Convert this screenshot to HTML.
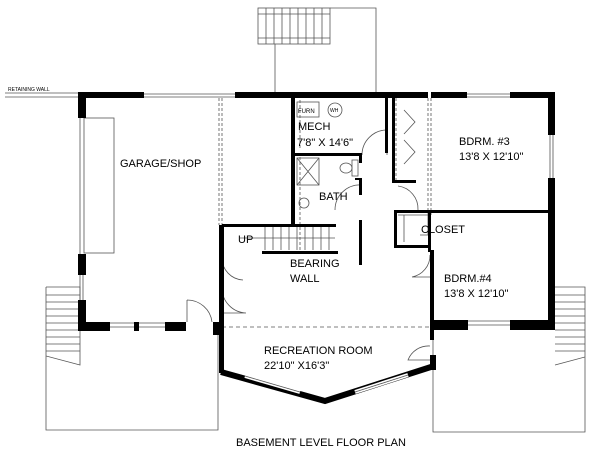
<!DOCTYPE html>
<html><head><meta charset="utf-8"><style>
html,body{margin:0;padding:0;background:#fff;width:600px;height:450px;overflow:hidden}
svg text{font-family:"Liberation Sans",sans-serif;fill:#000}
</style></head><body>
<svg width="600" height="450" viewBox="0 0 600 450" xmlns="http://www.w3.org/2000/svg">
<g fill="none" stroke="#555" stroke-width="0.8">
<!-- top stair -->
<rect x="258" y="8" width="72" height="36"/>
<line x1="258" y1="14" x2="330" y2="14"/><line x1="258" y1="38" x2="330" y2="38"/>
<path d="M266 8V44M274 8V44M282 8V44M290 8V44M298 8V44M306 8V44M314 8V44M322 8V44"/>
<line x1="275" y1="44" x2="275" y2="93"/>
<path d="M330 8H376V93"/>
<!-- retaining wall -->
<line x1="5" y1="93" x2="78" y2="93"/><line x1="5" y1="97" x2="78" y2="97"/>
<!-- garage door bench -->
<rect x="84" y="118" width="30" height="135"/>
<line x1="80" y1="118" x2="80" y2="255"/>
<!-- garage dashed -->
<path d="M219 98V225M222 98V225M300 100V150M396 98V180M300 157V250" stroke-dasharray="3,2"/>
<path d="M428 98V215M431 98V215" stroke-dasharray="3,2"/>
<path d="M222 327H430" stroke-dasharray="4,3"/>
<!-- left deck -->
<path d="M46 287H80V365L46 356V287M46 356V430H218V335"/>
<path d="M46 295H80M46 302H80M46 309H80M46 316H80M46 323H80M46 330H80M46 337H80M46 344H80M46 351H80"/>
<!-- right deck -->
<path d="M555 287H585V357L555 365M585 357V432H433V332"/>
<path d="M555 295H585M555 302H585M555 309H585M555 316H585M555 323H585M555 330H585M555 337H585M555 344H585M555 351H585"/>
<!-- windows -->
<path d="M144 94H235M144 97H235M467 94H510M467 97H510M550 135V178M553 135V178M80 275V300M83 275V300M110 323H165M110 327H165M468 321H510M468 325H510"/>
<!-- main stairs -->
<path d="M265 226V250M273 226V250M281 226V250M289 226V250M297 226V250M305 226V250M313 226V250M321 226V250M329 226V250M240 238H335"/>
<!-- doors arcs -->
<path d="M187 300A25 25 0 0 1 212 322M187 300V322"/>
<path d="M222 288A25 25 0 0 0 246 313H222"/>
<path d="M222 258A22 22 0 0 0 243 280"/>
<path d="M362 155A25 25 0 0 1 387 130V155"/>
<path d="M335 210A25 25 0 0 1 362 185"/>
<path d="M398 186A23 23 0 0 1 418 210"/>
<path d="M430 255A22 22 0 0 1 412 277H430"/>
<path d="M430 346A22 22 0 0 0 408 360H430"/>
<path d="M398 215H428V235H420M404 215V242"/>
<path d="M404 110L415 122L404 134M404 140L415 152L404 164"/>
<!-- mech fixtures -->
<rect x="297" y="102" width="22" height="15"/><circle cx="335" cy="110" r="7"/>
<rect x="297" y="158" width="22" height="27"/><path d="M297 158L319 185M319 158L297 185"/>
<ellipse cx="346" cy="168" rx="6" ry="5"/><rect x="352" y="160" width="6" height="16"/>
<circle cx="304" cy="203" r="5"/>
</g>
<g fill="#000">
<!-- exterior walls -->
<rect x="78" y="92" width="66" height="6"/>
<rect x="235" y="92" width="193" height="6"/>
<rect x="431" y="92" width="36" height="6"/>
<rect x="510" y="92" width="45" height="6"/>
<rect x="548" y="92" width="7" height="43"/>
<rect x="548" y="178" width="7" height="150"/>
<rect x="78" y="92" width="8" height="26"/>
<rect x="78" y="254" width="8" height="21"/>
<rect x="78" y="300" width="8" height="31"/>
<rect x="78" y="322" width="32" height="9"/>
<rect x="134" y="322" width="5" height="9"/>
<rect x="165" y="322" width="21" height="9"/>
<rect x="213" y="322" width="9" height="13"/>
<rect x="219" y="225" width="5" height="148"/>
<rect x="430" y="320" width="38" height="10"/>
<rect x="510" y="320" width="45" height="10"/>
<rect x="430" y="250" width="4" height="90"/>
<rect x="430" y="355" width="6" height="15"/>
<!-- interior walls -->
<rect x="291" y="98" width="4" height="127"/>
<rect x="295" y="153" width="67" height="3"/>
<rect x="359" y="153" width="3" height="10"/>
<rect x="359" y="180" width="3" height="15"/>
<rect x="355" y="178" width="7" height="2"/>
<rect x="359" y="220" width="3" height="45"/>
<rect x="222" y="224" width="114" height="3"/>
<rect x="262" y="251" width="76" height="3"/>
<rect x="385" y="98" width="3" height="55"/>
<rect x="392" y="98" width="3" height="85"/>
<rect x="392" y="180" width="24" height="3"/>
<rect x="395" y="210" width="153" height="3"/>
<rect x="394" y="210" width="3" height="38"/>
<rect x="394" y="245" width="36" height="3"/>
<rect x="428" y="210" width="3" height="42"/>
<rect x="255" y="255" width="3" height="30" opacity="0"/>
</g>
<!-- angled rec room wall -->
<path d="M221 372L325 401L434 366" fill="none" stroke="#000" stroke-width="6"/>
<path d="M245 376L300 392M355 392L408 375" fill="none" stroke="#fff" stroke-width="4"/>
<path d="M245 376L300 392M355 392L408 375" fill="none" stroke="#555" stroke-width="0.8" stroke-dasharray="0"/>
<g font-size="11">
<text x="120" y="167">GARAGE/SHOP</text>
<text x="298" y="130">MECH</text>
<text x="297" y="146">7'8" X 14'6"</text>
<text x="319" y="200">BATH</text>
<text x="459" y="145">BDRM. #3</text>
<text x="459" y="160">13'8 X 12'10"</text>
<text x="421" y="233">CLOSET</text>
<text x="444" y="282">BDRM.#4</text>
<text x="444" y="297">13'8 X 12'10"</text>
<text x="238" y="243">UP</text>
<text x="290" y="267">BEARING</text>
<text x="290" y="282">WALL</text>
<text x="264" y="354">RECREATION ROOM</text>
<text x="264" y="369">22'10" X16'3"</text>
<text x="236" y="446">BASEMENT LEVEL FLOOR PLAN</text>
</g>
<text x="8" y="91" font-size="5">RETAINING WALL</text>
<text x="298" y="113" font-size="6">FURN</text>
<text x="330" y="112" font-size="5">WH</text>
</svg>
</body></html>
